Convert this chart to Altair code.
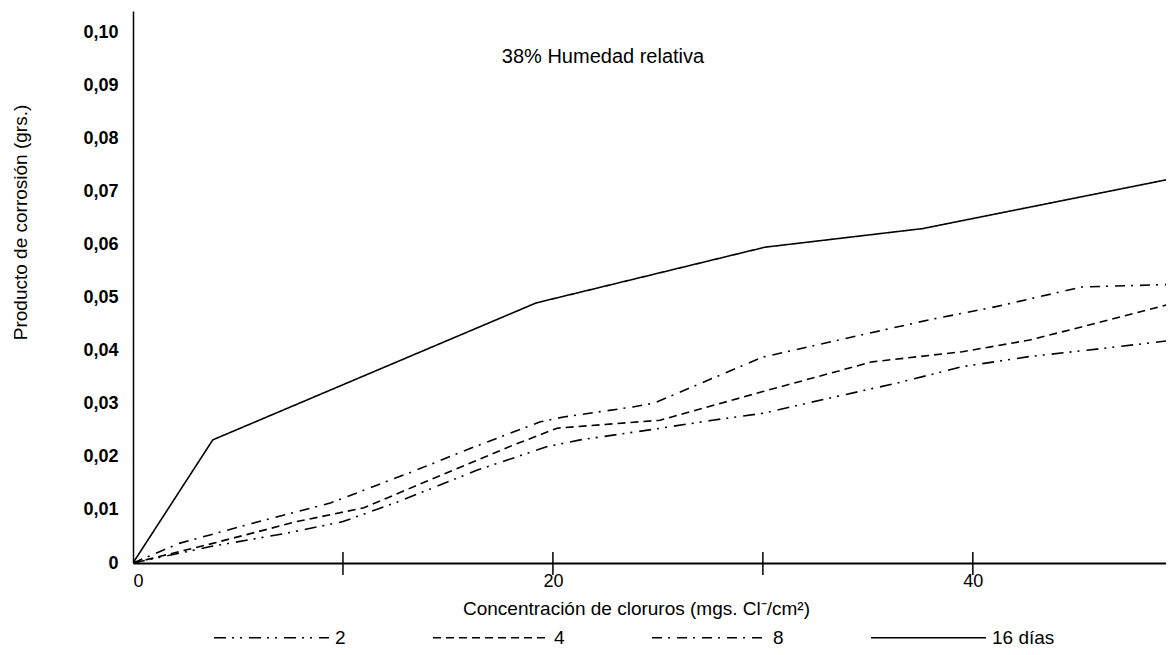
import altair as alt
import pandas as pd

# ---- data ----
series_names = ["2", "4", "8", "16 días"]

conc_2 = [0, 3.7, 7.3, 10.0, 12.6, 16.4, 19.7, 21.3, 24.8, 27.6, 30.0, 33.2, 36.4, 39.5, 42.7, 45.9, 49.6]
prod_2 = [0, 0.0031, 0.0056, 0.0078, 0.0115, 0.0175, 0.0219, 0.0232, 0.0252, 0.0269, 0.0282, 0.0311, 0.0339, 0.0370, 0.0389, 0.0403, 0.0420]

conc_4 = [0, 3.8, 7.8, 11.0, 14.1, 18.1, 20.2, 25.1, 30.0, 35.2, 39.5, 42.7, 45.9, 49.6]
prod_4 = [0, 0.0037, 0.0078, 0.0104, 0.0156, 0.0222, 0.0254, 0.0269, 0.0323, 0.0379, 0.0398, 0.0420, 0.0452, 0.0490]

conc_8 = [0, 2.2, 5.7, 9.4, 13.3, 16.2, 19.4, 20.5, 23.8, 24.8, 30.0, 33.6, 37.9, 41.1, 45.2, 49.6]
prod_8 = [0, 0.0037, 0.0075, 0.0113, 0.0172, 0.0218, 0.0266, 0.0275, 0.0294, 0.0301, 0.0388, 0.0420, 0.0458, 0.0483, 0.0520, 0.0525]

conc_16 = [0, 3.8, 19.2, 30.1, 37.6, 49.6]
prod_16 = [0, 0.0232, 0.0490, 0.0595, 0.0630, 0.0725]

x_tick_marks = [10, 20, 30, 40]
x_label_values = [0, 20, 40]
y_label_values = [0, 0.01, 0.02, 0.03, 0.04, 0.05, 0.06, 0.07, 0.08, 0.09, 0.10]

title_text = "38%  Humedad relativa"
x_title = "Concentración de cloruros (mgs. Cl⁻/cm²)"
y_title = "Producto de corrosión (grs.)"

rows = []
for name, xs, ys in [("2", conc_2, prod_2), ("4", conc_4, prod_4),
                     ("8", conc_8, prod_8), ("16 días", conc_16, prod_16)]:
    for xv, yv in zip(xs, ys):
        rows.append({"serie": name, "conc": xv, "prod": yv})
df = pd.DataFrame(rows)

FONT = "Liberation Sans"
XMAX = 49.2
YMAX = 0.104

xscale = alt.Scale(domain=[0, XMAX], nice=False, zero=False)
yscale = alt.Scale(domain=[0, YMAX], nice=False, zero=False)

dash_range = [[12, 6, 2, 6, 2, 7], [8, 5], [10, 6, 2, 7], [1, 0]]

lines = alt.Chart(df).mark_line(color="black", strokeWidth=1.6, clip=True).encode(
    x=alt.X("conc:Q", scale=xscale,
            axis=alt.Axis(values=x_label_values, title=x_title, grid=False, ticks=False,
                          labelExpr="format(datum.value, 'd')",
                          labelFontSize=18, labelFont=FONT, labelColor="black", labelPadding=9,
                          domainColor="black", domainWidth=2,
                          titleFont=FONT, titleFontSize=19, titleFontWeight="normal",
                          titleColor="black", titleX=503, titleY=36)),
    y=alt.Y("prod:Q", scale=yscale,
            axis=alt.Axis(values=y_label_values, title=y_title, grid=False, ticks=False,
                          labelExpr="datum.value == 0 ? '0' : replace(format(datum.value, '.2f'), '.', ',')",
                          labelFontSize=18, labelFont=FONT, labelFontWeight="bold",
                          labelColor="black", labelPadding=15,
                          domainColor="black", domainWidth=1.5,
                          titleFont=FONT, titleFontSize=19, titleFontWeight="normal",
                          titleColor="black", titleX=-113, titleY=211,
                          titleBaseline="middle", titleAlign="center")),
    strokeDash=alt.StrokeDash(
        "serie:N",
        scale=alt.Scale(domain=series_names, range=dash_range),
        sort=series_names,
        legend=alt.Legend(orient="none", legendX=80, legendY=568, direction="horizontal",
                          title=None, symbolType="stroke", symbolSize=13225,
                          symbolStrokeWidth=1.5, symbolStrokeColor="black",
                          labelFontSize=19, labelFont=FONT, labelColor="black",
                          labelOffset=5, columnPadding=84)),
)

ticks_df = pd.DataFrame({"conc": x_tick_marks})
ticks = alt.Chart(ticks_df).mark_rule(color="black", strokeWidth=1.5).encode(
    x=alt.X("conc:Q", scale=xscale),
    y=alt.value(541), y2=alt.value(564),
)

title_df = pd.DataFrame({"t": [title_text]})
title = alt.Chart(title_df).mark_text(font=FONT, fontSize=20, color="black",
                                      align="center", baseline="middle").encode(
    text="t:N", x=alt.value(470), y=alt.value(46)
)

chart = alt.layer(lines, ticks, title).properties(
    width=1033, height=552,
    autosize=alt.AutoSizeParams(type="none"),
    padding={"left": 125, "top": 3, "right": 0, "bottom": 84},
    background="white",
).configure_view(stroke=None)

chart.save("out.html", embed_options={"renderer": "svg", "actions": False})
